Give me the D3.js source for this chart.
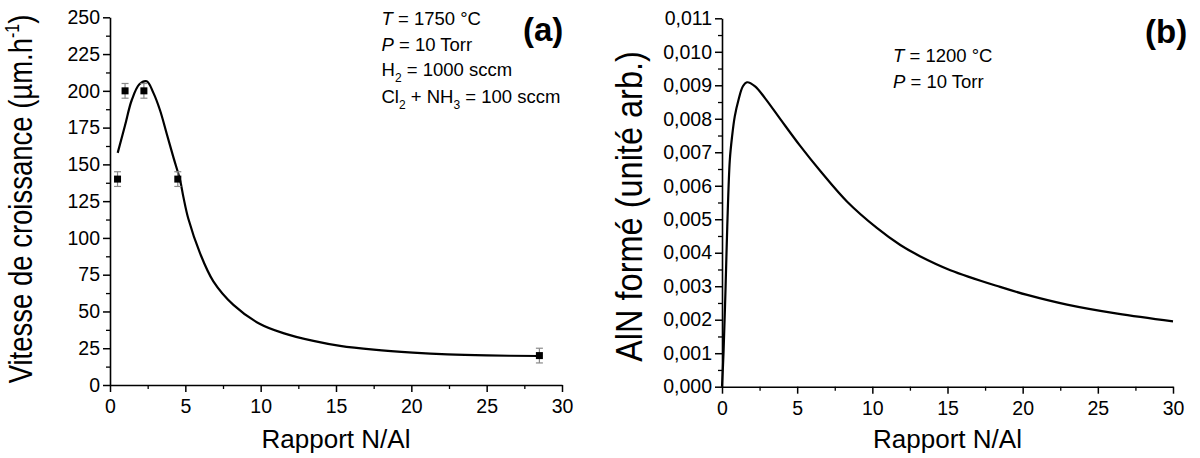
<!DOCTYPE html>
<html>
<head>
<meta charset="utf-8">
<script src="https://cdn.jsdelivr.net/npm/d3@7"></script>
<style>
  html, body { margin: 0; padding: 0; background: #fff; }
  svg { display: block; }
  text { font-family: "Liberation Sans", Arial, sans-serif; fill: #000; }
</style>
</head>
<body>
<svg id="chart" width="1200" height="458"></svg>
<script>
// ---------- data ----------
// Panel (a): measured growth rate
const ptsX   = [0.5, 1.0, 2.25, 4.5, 28.5];
const ptsY   = [140, 200, 200, 140, 20];
const ptsErr = [5, 5, 5, 5, 5];
// Panel (a): fitted curve
const curveAX = [0.51, 1.0, 1.44, 1.95, 2.44, 2.88, 3.32, 3.76, 4.2, 4.65, 4.87, 5.2, 5.98, 6.86, 8.19, 9.96, 11.5, 13.5, 15.27, 17.5, 20.1, 22.4, 25, 28.5];
const curveAY = [157.8, 176.6, 193.6, 204.5, 206.5, 198.6, 186.8, 171, 155.1, 139.3, 127.9, 113, 89.5, 70.5, 54.5, 41.5, 35.3, 30, 26.6, 24, 22, 20.8, 20.1, 19.7];
// Panel (b): computed AlN formed
const curveBX = [0, 0.1, 0.24, 0.35, 0.52, 0.67, 0.85, 1.1, 1.39, 1.66, 2.2, 2.87, 3.88, 5.2, 6.54, 8.31, 10.3, 11.86, 13.2, 15.19, 18.5, 20.3, 22.95, 26.3, 30];
const curveBY = [0, 0.001, 0.0030, 0.00478, 0.00677, 0.00747, 0.00807, 0.00857, 0.00897, 0.00909, 0.00897, 0.00861, 0.00799, 0.00719, 0.00644, 0.00553, 0.00474, 0.00423, 0.00389, 0.00348, 0.00298, 0.00274, 0.00245, 0.00218, 0.00195];
// ticks
const xTicks      = [0, 5, 10, 15, 20, 25, 30];
const xMinorTicks = [2.5, 7.5, 12.5, 17.5, 22.5, 27.5];
const yTicksA      = [0, 25, 50, 75, 100, 125, 150, 175, 200, 225, 250];
const yMinorTicksA = [12.5, 37.5, 62.5, 87.5, 112.5, 137.5, 162.5, 187.5, 212.5, 237.5];
const yTicksB      = [0, 0.001, 0.002, 0.003, 0.004, 0.005, 0.006, 0.007, 0.008, 0.009, 0.010, 0.011];
const yMinorTicksB = [0.0005, 0.0015, 0.0025, 0.0035, 0.0045, 0.0055, 0.0065, 0.0075, 0.0085, 0.0095, 0.0105];

const svg = d3.select("#chart");
const TICK_FONT = "19.5px";

// ---------- scales ----------
const xA = d3.scaleLinear().domain([0, 30]).range([110, 562]);
const yA = d3.scaleLinear().domain([0, 250]).range([385, 17.3]);
const xB = d3.scaleLinear().domain([0, 30]).range([722, 1173]);
const yB = d3.scaleLinear().domain([0, 0.011]).range([386.7, 18.3]);

const fmtB = v => d3.format(".3f")(v).replace(".", ",");

function drawAxes(xS, yS, yTicks, yMinor, yFmt, x0, y0) {
  // minor ticks
  svg.append("g").attr("transform", `translate(0,${y0})`)
    .call(d3.axisBottom(xS).tickValues(xMinorTicks).tickSize(4).tickFormat(""))
    .call(g => g.select(".domain").remove())
    .selectAll("line").attr("stroke-width", 1.3);
  svg.append("g").attr("transform", `translate(${x0},0)`)
    .call(d3.axisLeft(yS).tickValues(yMinor).tickSize(4).tickFormat(""))
    .call(g => g.select(".domain").remove())
    .selectAll("line").attr("stroke-width", 1.3);
  // major
  const gx = svg.append("g").attr("transform", `translate(0,${y0})`)
    .call(d3.axisBottom(xS).tickValues(xTicks).tickSize(7).tickSizeOuter(0).tickPadding(7).tickFormat(d3.format("d")));
  gx.select(".domain").attr("stroke-width", 1.6);
  gx.selectAll("line").attr("stroke-width", 1.5);
  gx.selectAll("text").style("font-size", TICK_FONT).attr("fill", "#000");
  const gy = svg.append("g").attr("transform", `translate(${x0},0)`)
    .call(d3.axisLeft(yS).tickValues(yTicks).tickSize(7).tickSizeOuter(0).tickPadding(3).tickFormat(yFmt));
  gy.select(".domain").attr("stroke-width", 1.6);
  gy.selectAll("line").attr("stroke-width", 1.5);
  gy.selectAll("text").style("font-size", TICK_FONT).attr("fill", "#000");
}

// ---------- panel (a) ----------
drawAxes(xA, yA, yTicksA, yMinorTicksA, d3.format("d"), 110, 385);

const lineA = d3.line().x(d => xA(d[0])).y(d => yA(d[1])).curve(d3.curveCatmullRom.alpha(0.5));
svg.append("path")
  .datum(curveAX.map((x, i) => [x, curveAY[i]]))
  .attr("d", lineA).attr("fill", "none").attr("stroke", "#000").attr("stroke-width", 2.2);

const pts = ptsX.map((x, i) => ({ x, y: ptsY[i], e: ptsErr[i] }));
const eb = svg.append("g").attr("stroke", "#8a8a8a").attr("stroke-width", 1.2);
pts.forEach(p => {
  const cx = xA(p.x);
  eb.append("line").attr("x1", cx).attr("x2", cx).attr("y1", yA(p.y - p.e)).attr("y2", yA(p.y + p.e));
  eb.append("line").attr("x1", cx - 3.5).attr("x2", cx + 3.5).attr("y1", yA(p.y - p.e)).attr("y2", yA(p.y - p.e));
  eb.append("line").attr("x1", cx - 3.5).attr("x2", cx + 3.5).attr("y1", yA(p.y + p.e)).attr("y2", yA(p.y + p.e));
});
svg.append("g").selectAll("rect").data(pts).join("rect")
  .attr("x", d => xA(d.x) - 3.5).attr("y", d => yA(d.y) - 3.5)
  .attr("width", 7).attr("height", 7).attr("fill", "#000");

// axis titles (a)
svg.append("text").attr("x", 336).attr("y", 448).attr("text-anchor", "middle")
  .style("font-size", "26px").text("Rapport N/Al");
const ta = svg.append("text").attr("text-anchor", "middle")
  .attr("transform", "translate(31.5,199) rotate(-90) scale(1,1.22)")
  .style("font-size", "27.5px");
ta.append("tspan").text("Vitesse de croissance (µm.h");
ta.append("tspan").attr("dy", -10).style("font-size", "16px").text("-1");
ta.append("tspan").attr("dy", 10).text(")");

// annotations (a)
const annA = svg.append("g").style("font-size", "18.5px");
let t = annA.append("text").attr("x", 381.5).attr("y", 25);
t.append("tspan").style("font-style", "italic").text("T");
t.append("tspan").text(" = 1750 °C");
t = annA.append("text").attr("x", 381.5).attr("y", 50.5);
t.append("tspan").style("font-style", "italic").text("P");
t.append("tspan").text(" = 10 Torr");
t = annA.append("text").attr("x", 381.5).attr("y", 76);
t.append("tspan").text("H");
t.append("tspan").attr("dy", 6).style("font-size", "12px").text("2");
t.append("tspan").attr("dy", -6).text(" = 1000 sccm");
t = annA.append("text").attr("x", 381.5).attr("y", 102.5);
t.append("tspan").text("Cl");
t.append("tspan").attr("dy", 6).style("font-size", "12px").text("2");
t.append("tspan").attr("dy", -6).text(" + NH");
t.append("tspan").attr("dy", 6).style("font-size", "12px").text("3");
t.append("tspan").attr("dy", -6).text(" = 100 sccm");
svg.append("text").attr("x", 523).attr("y", 41).style("font-size", "33px").style("font-weight", "bold").text("(a)");

// ---------- panel (b) ----------
drawAxes(xB, yB, yTicksB, yMinorTicksB, fmtB, 722, 386.7);

const lineB = d3.line().x(d => xB(d[0])).y(d => yB(d[1])).curve(d3.curveCatmullRom.alpha(0.5));
svg.append("path")
  .datum(curveBX.map((x, i) => [x, curveBY[i]]))
  .attr("d", lineB).attr("fill", "none").attr("stroke", "#000").attr("stroke-width", 2.2);

svg.append("text").attr("x", 947.5).attr("y", 448).attr("text-anchor", "middle")
  .style("font-size", "26px").text("Rapport N/Al");
svg.append("text").attr("text-anchor", "middle")
  .attr("transform", "translate(641.5,206.5) rotate(-90) scale(1,1.12)")
  .style("font-size", "32.5px").text("AlN formé (unité arb.)");

const annB = svg.append("g").style("font-size", "18.5px");
t = annB.append("text").attr("x", 893).attr("y", 62);
t.append("tspan").style("font-style", "italic").text("T");
t.append("tspan").text(" = 1200 °C");
t = annB.append("text").attr("x", 893).attr("y", 88);
t.append("tspan").style("font-style", "italic").text("P");
t.append("tspan").text(" = 10 Torr");
svg.append("text").attr("x", 1145).attr("y", 43).style("font-size", "33px").style("font-weight", "bold").text("(b)");
</script>
</body>
</html>
